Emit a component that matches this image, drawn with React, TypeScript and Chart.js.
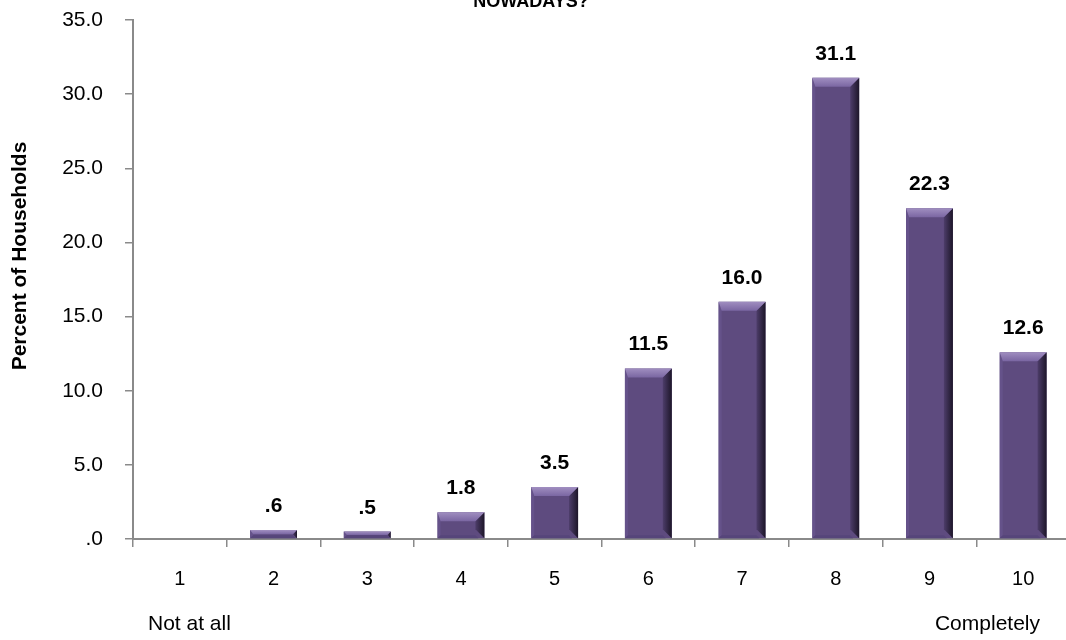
import React, { useEffect, useRef } from "react";
import { Chart, registerables } from "chart.js";

Chart.register(...registerables);

const categories = ["1", "2", "3", "4", "5", "6", "7", "8", "9", "10"];
const values = [0, 0.6, 0.5, 1.8, 3.5, 11.5, 16.0, 31.1, 22.3, 12.6];
const dataLabels = ["", ".6", ".5", "1.8", "3.5", "11.5", "16.0", "31.1", "22.3", "12.6"];
const yTitle = "Percent of Households";
const chartTitle = "NOWADAYS?";
const leftNote = "Not at all";
const rightNote = "Completely";

const FONT = "'Liberation Sans', Arial, sans-serif";

const fmt = (v: number) => {
  const s = Number(v).toFixed(1);
  return s.startsWith("0") ? s.slice(1) : s;
};

const bevelPlugin = {
  id: "bevel",
  afterDatasetsDraw(chart: any) {
    const ctx = chart.ctx;
    const meta = chart.getDatasetMeta(0);
    meta.data.forEach((bar: any) => {
      const p = bar.getProps(["x", "y", "base", "width"], true);
      const left = p.x - p.width / 2;
      const right = p.x + p.width / 2;
      const top = Math.min(p.y, p.base);
      const bottom = Math.max(p.y, p.base);
      const h = bottom - top;
      if (h <= 0.5) return;
      const b = Math.min(9, h / 2);
      ctx.save();
      // left
      ctx.fillStyle = "#65528a";
      ctx.beginPath();
      ctx.moveTo(left, top);
      ctx.lineTo(left + 3, top + b);
      ctx.lineTo(left + 3, bottom - 3);
      ctx.lineTo(left, bottom);
      ctx.closePath();
      ctx.fill();
      // right
      const gR = ctx.createLinearGradient(right - b, 0, right, 0);
      gR.addColorStop(0, "#4d3d6a");
      gR.addColorStop(1, "#1d1629");
      ctx.fillStyle = gR;
      ctx.beginPath();
      ctx.moveTo(right, top);
      ctx.lineTo(right, bottom);
      ctx.lineTo(right - b, bottom - b);
      ctx.lineTo(right - b, top + b);
      ctx.closePath();
      ctx.fill();
      // bottom
      ctx.fillStyle = "#56457a";
      ctx.beginPath();
      ctx.moveTo(left, bottom);
      ctx.lineTo(left + 3, bottom - 3);
      ctx.lineTo(right - b, bottom - 3);
      ctx.lineTo(right - b + 3, bottom);
      ctx.closePath();
      ctx.fill();
      // top
      const gT = ctx.createLinearGradient(0, top, 0, top + b);
      gT.addColorStop(0, "#a08ec0");
      gT.addColorStop(1, "#7a66a2");
      ctx.fillStyle = gT;
      ctx.beginPath();
      ctx.moveTo(left, top);
      ctx.lineTo(right, top);
      ctx.lineTo(right - b, top + b);
      ctx.lineTo(left + 3, top + b);
      ctx.closePath();
      ctx.fill();
      ctx.restore();
    });
    // data labels
    ctx.save();
    ctx.fillStyle = "#000";
    ctx.font = `bold 21px ${FONT}`;
    ctx.textAlign = "center";
    ctx.textBaseline = "alphabetic";
    meta.data.forEach((bar: any, i: number) => {
      const t = dataLabels[i];
      if (!t) return;
      const p = bar.getProps(["x", "y"], true);
      ctx.fillText(t, p.x, p.y - 18);
    });
    ctx.restore();
  },
  afterDraw(chart: any) {
    const ctx = chart.ctx;
    ctx.save();
    ctx.fillStyle = "#000";
    ctx.font = `bold 18px ${FONT}`;
    ctx.textAlign = "center";
    ctx.textBaseline = "alphabetic";
    ctx.fillText(chartTitle, 531, 7);
    ctx.font = `21px ${FONT}`;
    ctx.textAlign = "left";
    ctx.fillText(leftNote, 148, 630);
    ctx.textAlign = "right";
    ctx.fillText(rightNote, 1040, 630);
    // y axis title
    ctx.translate(20, 256);
    ctx.rotate(-Math.PI / 2);
    ctx.font = `bold 21px ${FONT}`;
    ctx.textAlign = "center";
    ctx.textBaseline = "middle";
    ctx.fillText(yTitle, 0, 0);
    ctx.restore();
  },
};

export default function App() {
  const ref = useRef<HTMLCanvasElement | null>(null);
  useEffect(() => {
    if (!ref.current) return;
    const chart = new Chart(ref.current, {
      type: "bar",
      data: {
        labels: categories,
        datasets: [
          {
            data: values,
            backgroundColor: "#5e4b7f",
            borderWidth: 0,
            barPercentage: 0.5,
            categoryPercentage: 1.0,
          },
        ],
      },
      options: {
        animation: false,
        responsive: false,
        maintainAspectRatio: false,
        layout: { padding: { top: 20, right: 0, left: 0, bottom: 0 } },
        plugins: {
          legend: { display: false },
          tooltip: { enabled: false },
          title: { display: false },
        },
        scales: {
          x: {
            grid: {
              display: true,
              drawOnChartArea: false,
              offset: true,
              color: "#8a8a8a",
              tickLength: 8,
              lineWidth: 1.5,
            },
            border: { display: true, color: "#8a8a8a", width: 2 },
            ticks: {
              color: "#000",
              font: { family: FONT, size: 20 },
              padding: 20,
              maxRotation: 0,
            },
            afterFit(scale: any) {
              scale.height = 101;
              scale.paddingLeft = 0;
              scale.paddingRight = 0;
            },
          },
          y: {
            min: 0,
            max: 35,
            ticks: {
              stepSize: 5,
              color: "#000",
              font: { family: FONT, size: 21 },
              padding: 22,
              callback: (v: any) => fmt(Number(v)),
            },
            grid: {
              display: true,
              drawOnChartArea: false,
              color: "#8a8a8a",
              tickLength: 8,
              lineWidth: 1.5,
            },
            border: { display: true, color: "#8a8a8a", width: 2 },
            afterFit(scale: any) {
              scale.width = 133;
              scale.paddingTop = 0;
              scale.paddingBottom = 0;
            },
          },
        },
      },
      plugins: [bevelPlugin],
    } as any);
    return () => chart.destroy();
  }, []);
  return (
    <div style={{ position: "fixed", left: 0, top: 0, width: 1070, height: 640, background: "#fff" }}>
      <canvas ref={ref} width={1070} height={640} style={{ display: "block" }} />
    </div>
  );
}
